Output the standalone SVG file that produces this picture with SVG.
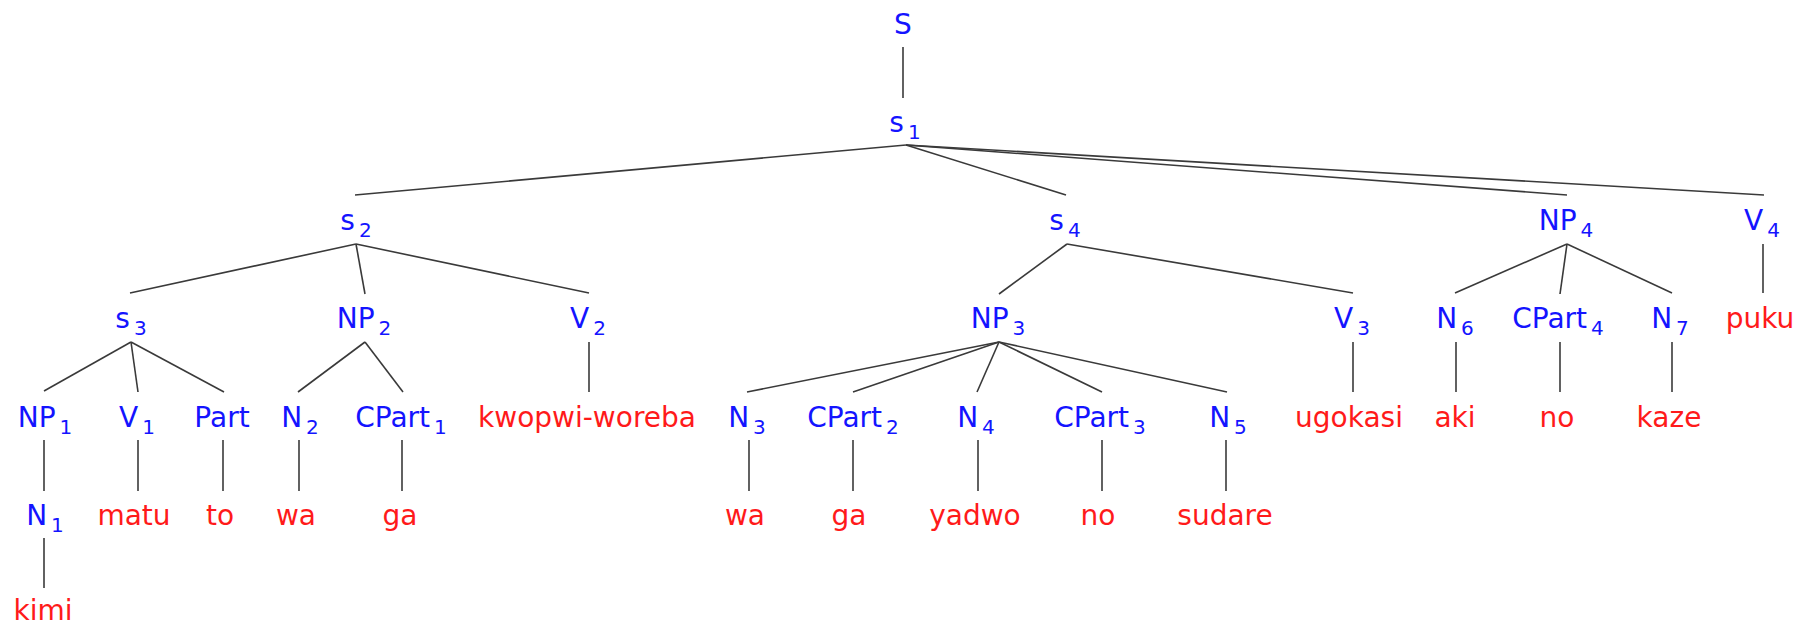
<svg xmlns="http://www.w3.org/2000/svg" width="1809" height="627" viewBox="0 0 1809 627">
<style>
text{font-family:"DejaVu Sans","Liberation Sans",sans-serif;font-size:28px;text-anchor:middle}
.c{fill:#1414ff}
.w{fill:#ff1a1a}
.s{font-size:20px}
#edges line{stroke:#3a3a3a;stroke-width:1.6}
</style>
<rect width="1809" height="627" fill="#fff"/>
<g id="edges">
<line x1="903" y1="47" x2="903" y2="98"/>
<line x1="906" y1="145" x2="355" y2="195"/>
<line x1="906" y1="145" x2="1066" y2="195"/>
<line x1="906" y1="145" x2="1567" y2="195"/>
<line x1="906" y1="145" x2="1764" y2="195"/>
<line x1="356" y1="244" x2="130" y2="293"/>
<line x1="356" y1="244" x2="365" y2="294"/>
<line x1="356" y1="244" x2="589" y2="293"/>
<line x1="1067" y1="244" x2="999" y2="294"/>
<line x1="1067" y1="244" x2="1353" y2="293"/>
<line x1="1567" y1="244" x2="1455" y2="293"/>
<line x1="1567" y1="244" x2="1560" y2="294"/>
<line x1="1567" y1="244" x2="1672" y2="293"/>
<line x1="1763" y1="244" x2="1763" y2="293"/>
<line x1="131" y1="342" x2="44" y2="391"/>
<line x1="131" y1="342" x2="138" y2="392"/>
<line x1="131" y1="342" x2="224" y2="392"/>
<line x1="365" y1="342" x2="298" y2="392"/>
<line x1="365" y1="342" x2="403" y2="392"/>
<line x1="589" y1="342" x2="589" y2="392"/>
<line x1="999" y1="342" x2="747" y2="392"/>
<line x1="999" y1="342" x2="853" y2="392"/>
<line x1="999" y1="342" x2="977" y2="392"/>
<line x1="999" y1="342" x2="1102" y2="392"/>
<line x1="999" y1="342" x2="1227" y2="392"/>
<line x1="1353" y1="342" x2="1353" y2="392"/>
<line x1="1456" y1="342" x2="1456" y2="392"/>
<line x1="1560" y1="342" x2="1560" y2="392"/>
<line x1="1672" y1="342" x2="1672" y2="392"/>
<line x1="44" y1="440" x2="44" y2="491"/>
<line x1="138" y1="440" x2="138" y2="491"/>
<line x1="223" y1="440" x2="223" y2="491"/>
<line x1="299" y1="440" x2="299" y2="491"/>
<line x1="402" y1="440" x2="402" y2="491"/>
<line x1="749" y1="440" x2="749" y2="491"/>
<line x1="853" y1="440" x2="853" y2="491"/>
<line x1="978" y1="440" x2="978" y2="491"/>
<line x1="1102" y1="440" x2="1102" y2="491"/>
<line x1="1226" y1="440" x2="1226" y2="491"/>
<line x1="44" y1="538" x2="44" y2="588"/>
</g>
<g id="S"><text class="c" x="903" y="34">S</text></g>
<g id="s1"><text class="c" x="905" y="132">s<tspan class="s" dx="4" dy="7">1</tspan></text></g>
<g id="s2"><text class="c" x="356" y="230">s<tspan class="s" dx="4" dy="7">2</tspan></text></g>
<g id="s4"><text class="c" x="1065" y="230">s<tspan class="s" dx="4" dy="7">4</tspan></text></g>
<g id="NP4"><text class="c" x="1566" y="230">NP<tspan class="s" dx="4" dy="7">4</tspan></text></g>
<g id="V4"><text class="c" x="1762" y="230">V<tspan class="s" dx="4" dy="7">4</tspan></text></g>
<g id="s3"><text class="c" x="131" y="328">s<tspan class="s" dx="4" dy="7">3</tspan></text></g>
<g id="NP2"><text class="c" x="364" y="328">NP<tspan class="s" dx="4" dy="7">2</tspan></text></g>
<g id="V2"><text class="c" x="588" y="328">V<tspan class="s" dx="4" dy="7">2</tspan></text></g>
<g id="NP3"><text class="c" x="998" y="328">NP<tspan class="s" dx="4" dy="7">3</tspan></text></g>
<g id="V3"><text class="c" x="1352" y="328">V<tspan class="s" dx="4" dy="7">3</tspan></text></g>
<g id="N6"><text class="c" x="1455" y="328">N<tspan class="s" dx="4" dy="7">6</tspan></text></g>
<g id="CPart4"><text class="c" x="1558" y="328">CPart<tspan class="s" dx="4" dy="7">4</tspan></text></g>
<g id="N7"><text class="c" x="1670" y="328">N<tspan class="s" dx="4" dy="7">7</tspan></text></g>
<g id="puku"><text class="w" x="1760" y="328">puku</text></g>
<g id="NP1"><text class="c" x="45" y="427">NP<tspan class="s" dx="4" dy="7">1</tspan></text></g>
<g id="V1"><text class="c" x="137" y="427">V<tspan class="s" dx="4" dy="7">1</tspan></text></g>
<g id="Part"><text class="c" x="222" y="427">Part</text></g>
<g id="N2"><text class="c" x="300" y="427">N<tspan class="s" dx="4" dy="7">2</tspan></text></g>
<g id="CPart1"><text class="c" x="401" y="427">CPart<tspan class="s" dx="4" dy="7">1</tspan></text></g>
<g id="kwopwi-woreba"><text class="w" x="587" y="427">kwopwi-woreba</text></g>
<g id="N3"><text class="c" x="747" y="427">N<tspan class="s" dx="4" dy="7">3</tspan></text></g>
<g id="CPart2"><text class="c" x="853" y="427">CPart<tspan class="s" dx="4" dy="7">2</tspan></text></g>
<g id="N4"><text class="c" x="976" y="427">N<tspan class="s" dx="4" dy="7">4</tspan></text></g>
<g id="CPart3"><text class="c" x="1100" y="427">CPart<tspan class="s" dx="4" dy="7">3</tspan></text></g>
<g id="N5"><text class="c" x="1228" y="427">N<tspan class="s" dx="4" dy="7">5</tspan></text></g>
<g id="ugokasi"><text class="w" x="1349" y="427">ugokasi</text></g>
<g id="aki"><text class="w" x="1455" y="427">aki</text></g>
<g id="no2"><text class="w" x="1557" y="427">no</text></g>
<g id="kaze"><text class="w" x="1669" y="427">kaze</text></g>
<g id="N1"><text class="c" x="45" y="525">N<tspan class="s" dx="4" dy="7">1</tspan></text></g>
<g id="matu"><text class="w" x="134" y="525">matu</text></g>
<g id="to"><text class="w" x="220" y="525">to</text></g>
<g id="wa1"><text class="w" x="296" y="525">wa</text></g>
<g id="ga1"><text class="w" x="400" y="525">ga</text></g>
<g id="wa2"><text class="w" x="745" y="525">wa</text></g>
<g id="ga2"><text class="w" x="849" y="525">ga</text></g>
<g id="yadwo"><text class="w" x="975" y="525">yadwo</text></g>
<g id="no1"><text class="w" x="1098" y="525">no</text></g>
<g id="sudare"><text class="w" x="1225" y="525">sudare</text></g>
<g id="kimi"><text class="w" x="43" y="620">kimi</text></g>
</svg>
